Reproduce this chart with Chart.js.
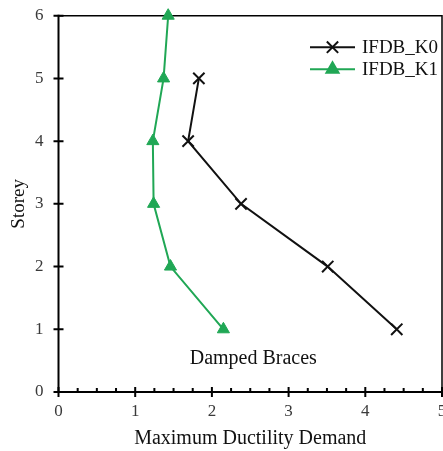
<!DOCTYPE html>
<html>
<head>
<meta charset="utf-8">
<script src="https://cdn.jsdelivr.net/npm/chart.js@4.4.0/dist/chart.umd.min.js"></script>
<style>
  html, body { margin: 0; padding: 0; background: #fff; }
  canvas { display: block; }
</style>
</head>
<body>
<canvas id="chart" width="443" height="451"></canvas>
<script>
// Maximum ductility demand per storey, damped-brace frames
const storeysK0 = [1, 2, 3, 4, 5];
const ductilityK0 = [4.41, 3.51, 2.38, 1.69, 1.83];
const storeysK1 = [1, 2, 3, 4, 5, 6];
const ductilityK1 = [2.15, 1.46, 1.24, 1.23, 1.37, 1.43];
const seriesNames = ['IFDB_K0', 'IFDB_K1'];
const xTickValues = [0, 1, 2, 3, 4, 5];
const yTickValues = [0, 1, 2, 3, 4, 5, 6];
const xTitle = 'Maximum Ductility Demand';
const yTitle = 'Storey';
const noteText = 'Damped Braces';
const notePos = [2.54, 0.53];

const SERIF = "'Liberation Serif', 'Times New Roman', serif";
const BLACK = '#111111';
const GREEN = '#20a755';
const MARKER_RADIUS = { crossRot: 8, triangle: 7 };

function toPoints(xs, ys) {
  return xs.map((v, i) => ({ x: v, y: ys[i] }));
}

function drawMarker(ctx, style, x, y, color) {
  ctx.save();
  ctx.strokeStyle = color;
  ctx.fillStyle = color;
  ctx.lineWidth = 2;
  if (Chart.helpers && Chart.helpers.drawPoint) {
    Chart.helpers.drawPoint(ctx, { pointStyle: style, radius: MARKER_RADIUS[style], rotation: 0, borderWidth: 2 }, x, y);
  } else if (style === 'crossRot') {
    ctx.beginPath();
    ctx.moveTo(x - 5.5, y - 5.5); ctx.lineTo(x + 5.5, y + 5.5);
    ctx.moveTo(x + 5.5, y - 5.5); ctx.lineTo(x - 5.5, y + 5.5);
    ctx.stroke();
  } else {
    ctx.beginPath();
    ctx.moveTo(x, y - 7); ctx.lineTo(x + 6, y + 4.5); ctx.lineTo(x - 6, y + 4.5);
    ctx.closePath(); ctx.fill();
  }
  ctx.restore();
}

// Frame, tick marks, legend and in-plot note
const decorations = {
  id: 'decorations',
  beforeDatasetsDraw(chart) {
    const { ctx, chartArea: ca, scales: { x, y } } = chart;
    ctx.save();
    ctx.strokeStyle = '#000';
    // top and right frame
    ctx.lineWidth = 1.5;
    ctx.beginPath();
    ctx.moveTo(ca.left, ca.top); ctx.lineTo(ca.right, ca.top); ctx.lineTo(ca.right, ca.bottom);
    ctx.stroke();
    // axis lines
    ctx.lineWidth = 2;
    ctx.beginPath();
    ctx.moveTo(ca.left, ca.top - 1); ctx.lineTo(ca.left, ca.bottom);
    ctx.lineTo(ca.right + 1, ca.bottom);
    ctx.stroke();
    // x ticks: major crossing the axis, minor inward
    ctx.beginPath();
    for (let v = 0; v <= 5.0001; v += 0.25) {
      const px = x.getPixelForValue(v);
      const major = Math.abs(v - Math.round(v)) < 1e-6;
      if (major) { ctx.moveTo(px, ca.bottom - 5); ctx.lineTo(px, ca.bottom + 5); }
      else { ctx.moveTo(px, ca.bottom - 4); ctx.lineTo(px, ca.bottom); }
    }
    // y ticks crossing the axis
    yTickValues.forEach(v => {
      const py = y.getPixelForValue(v);
      ctx.moveTo(ca.left - 5, py); ctx.lineTo(ca.left + 5, py);
    });
    ctx.stroke();
    ctx.restore();
  },
  afterDraw(chart) {
    const { ctx, chartArea: ca, scales: { x, y } } = chart;
    ctx.save();
    // note
    ctx.fillStyle = BLACK;
    ctx.font = '20px ' + SERIF;
    ctx.textAlign = 'center';
    ctx.textBaseline = 'middle';
    ctx.fillText(noteText, x.getPixelForValue(notePos[0]), y.getPixelForValue(notePos[1]));
    // legend
    const x0 = ca.right - 132, x1 = ca.right - 87, tx = ca.right - 80;
    chart.data.datasets.forEach((ds, i) => {
      const ly = ca.top + 31.5 + i * 22;
      ctx.strokeStyle = ds.borderColor;
      ctx.lineWidth = 2;
      ctx.beginPath();
      ctx.moveTo(x0, ly); ctx.lineTo(x1, ly);
      ctx.stroke();
      drawMarker(ctx, ds.pointStyle, (x0 + x1) / 2, ly, ds.borderColor);
      ctx.fillStyle = BLACK;
      ctx.font = '19px ' + SERIF;
      ctx.textAlign = 'left';
      ctx.textBaseline = 'middle';
      ctx.fillText(ds.label, tx, ly + 0.5);
    });
    ctx.restore();
  }
};

new Chart(document.getElementById('chart'), {
  type: 'scatter',
  data: {
    datasets: [
      {
        label: seriesNames[0],
        data: toPoints(ductilityK0, storeysK0),
        showLine: true,
        borderColor: BLACK,
        backgroundColor: BLACK,
        borderWidth: 2,
        pointStyle: 'crossRot',
        pointRadius: MARKER_RADIUS.crossRot,
        pointBorderWidth: 2,
        clip: false
      },
      {
        label: seriesNames[1],
        data: toPoints(ductilityK1, storeysK1),
        showLine: true,
        borderColor: GREEN,
        backgroundColor: GREEN,
        borderWidth: 2,
        pointStyle: 'triangle',
        pointRadius: MARKER_RADIUS.triangle,
        pointBorderWidth: 1,
        clip: false
      }
    ]
  },
  options: {
    responsive: false,
    animation: false,
    layout: { autoPadding: false, padding: { top: 15.7, right: 1, left: 0, bottom: 0 } },
    plugins: { legend: { display: false }, tooltip: { enabled: false } },
    scales: {
      x: {
        type: 'linear',
        min: 0, max: 5,
        grid: { display: false, drawTicks: false },
        border: { display: false },
        afterBuildTicks(s) { s.ticks = xTickValues.map(v => ({ value: v })); },
        afterFit(s) { s.height = 59; s.paddingLeft = 0; s.paddingRight = 0; },
        ticks: { padding: 9.5, color: '#3a3a3a', font: { family: SERIF, size: 17 }, maxRotation: 0, autoSkip: false },
        title: { display: true, text: xTitle, color: BLACK, font: { family: SERIF, size: 20 }, padding: { top: 0, bottom: 0.5 } }
      },
      y: {
        type: 'linear',
        min: 0, max: 6,
        grid: { display: false, drawTicks: false },
        border: { display: false },
        afterBuildTicks(s) { s.ticks = yTickValues.map(v => ({ value: v })); },
        afterFit(s) { s.width = 58.5; s.paddingTop = 0; s.paddingBottom = 0; },
        ticks: { padding: 15, color: '#3a3a3a', font: { family: SERIF, size: 17 }, autoSkip: false },
        title: { display: true, text: yTitle, color: BLACK, font: { family: SERIF, size: 19 }, padding: { top: 8, bottom: 0 } }
      }
    }
  },
  plugins: [decorations]
});
</script>
</body>
</html>
